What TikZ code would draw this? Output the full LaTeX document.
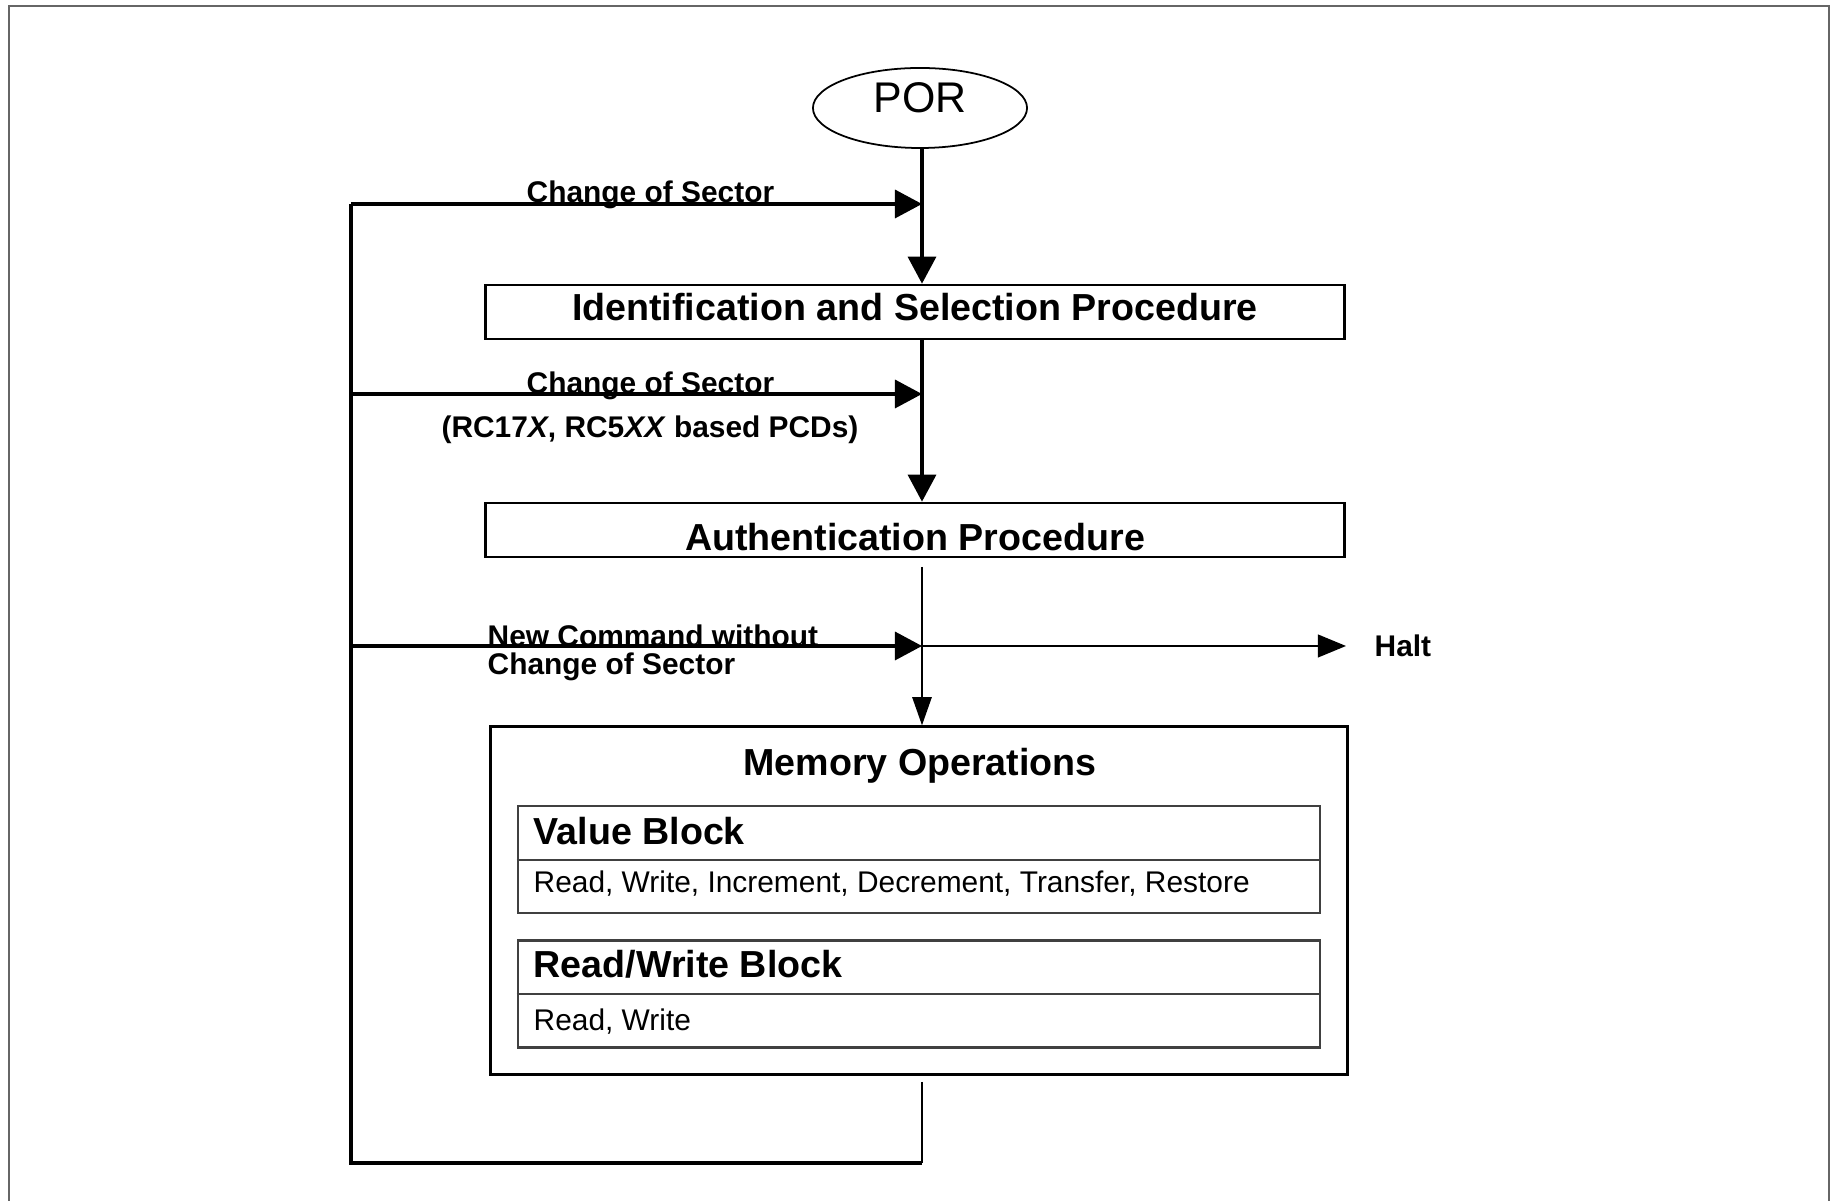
\documentclass[tikz,border=0pt]{standalone}
\usepackage{fontspec}
\setmainfont{Liberation Sans}
\usetikzlibrary{arrows.meta,shapes.geometric,calc}
\begin{document}
\begin{tikzpicture}[x=0.01cm,y=-0.01cm,
  thk/.style={line width=0.9pt},
  thn/.style={line width=0.45pt},
  bigtip/.style={-{Triangle[length=7.7pt,width=8pt]}},
  downtip/.style={-{Triangle[length=8pt,width=5.5pt]}},
  halttip/.style={-{Triangle[length=8pt,width=6.5pt]}},
  procbox/.style={draw,line width=0.75pt,inner sep=0pt,minimum width=8.58cm,minimum height=0.54cm,
     font=\fontsize{10.7}{12.8}\selectfont\bfseries},
  lbl/.style={inner sep=0pt,anchor=base west,font=\fontsize{8.5}{10}\selectfont\bfseries},
  tbl/.style={draw=black!75,line width=0.6pt,inner sep=0pt,minimum width=8.02cm,minimum height=1.07cm},
  tbltitle/.style={inner sep=0pt,anchor=base west,font=\fontsize{10.7}{12.8}\selectfont\bfseries},
  tbltext/.style={inner sep=0pt,anchor=base west,font=\fontsize{8.5}{10}\selectfont}
]
\useasboundingbox (0,0) rectangle (1832,1201);
% frame
\draw[black!60,line width=0.6pt] (9,1201) -- (9,6) -- (1829,6) -- (1829,1201);

% nodes
\node[ellipse,draw,line width=0.5pt,minimum width=2.14cm,minimum height=0.80cm,inner sep=0pt,
      text height=9pt,text depth=6.2pt,font=\fontsize{12.2}{14}\selectfont] (por) at (920,108) {POR};
\node[procbox,text height=10.2pt,text depth=5.1pt] (id) at (915,312) {Identification and Selection Procedure};
\node[procbox,text height=13.6pt,text depth=1.7pt] (auth) at (915,530) {Authentication Procedure};
\node[draw,line width=0.9pt,inner sep=0pt,minimum width=8.56cm,minimum height=3.47cm] (mem) at (919,900.5) {};
\node[inner sep=0pt,anchor=base,font=\fontsize{10.7}{12.8}\selectfont\bfseries] (memt) at (920,776) {Memory Operations};
\node[tbl] (vb) at (919,859.5) {};
\node[tbl] (rw) at (919,994) {};
\node[tbltitle] (vbt) at (533,845) {Value Block};
\node[tbltext] (vbo) at (533,893) {Read, Write, Increment, Decrement, Transfer, Restore};
\node[tbltitle] (rwt) at (533,978) {Read/Write Block};
\node[tbltext] (rwo) at (533,1031) {Read, Write};
\draw[black!75,line width=0.6pt] (vb.west |- 0,860) -- (vb.east |- 0,860);
\draw[black!75,line width=0.6pt] (rw.west |- 0,994) -- (rw.east |- 0,994);

% labels
\node[lbl] (l1) at (526,203) {Change of Sector};
\node[lbl] (l2) at (526,394) {Change of Sector};
\node[inner sep=0pt,anchor=base,font=\fontsize{8.5}{10}\selectfont\bfseries] (l2b) at (650,438) {(RC17\textit{X}, RC5\textit{XX} based PCDs)};
\node[lbl] (l3a) at (487,647) {New Command without};
\node[lbl] (l3b) at (487,675) {Change of Sector};
\node[lbl] (halt) at (1374,657) {Halt};

% coordinates
\coordinate (j1) at (922,204);
\coordinate (j2) at (922,394);
\coordinate (j3) at (922,646);
\coordinate (L1) at (351,204);
\coordinate (L2) at (351,394);
\coordinate (L3) at (351,646);
\coordinate (L4) at (351,1163);
\coordinate (B) at (922,1163);
\coordinate (a0) at (922,567);
\coordinate (m0) at (922,1082);
\coordinate (h0) at (1346,646);

% connectors
\draw[thk,bigtip] (por.south -| j1) -- (j1 |- id.north);
\draw[thk,bigtip] (L1) -- (j1);
\draw[thk,bigtip] (id.south -| j2) -- (j2 |- auth.north);
\draw[thk,bigtip] (L2) -- (j2);
\draw[thn,downtip] (a0) -- (a0 |- mem.north);
\draw[thk,bigtip] (L3) -- (j3);
\draw[thn,halttip] (j3) -- (h0);
\draw[thn] (m0) -- (B);
\draw[thk] (B) -- (L4) -- (L1);
\end{tikzpicture}
\end{document}
